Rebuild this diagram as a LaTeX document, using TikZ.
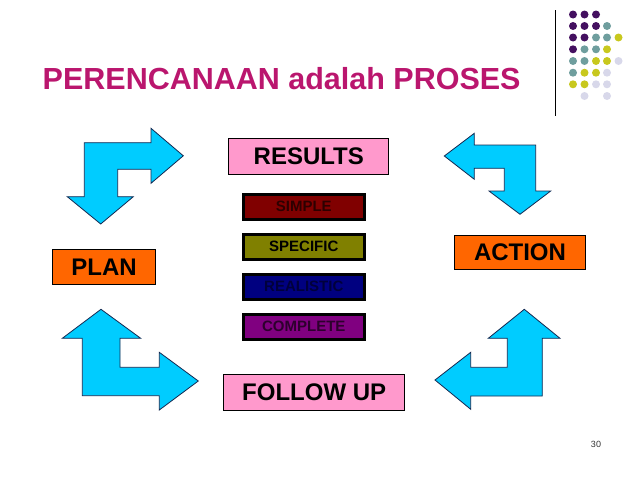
\documentclass[tikz,border=0pt]{standalone}
\usepackage{fontspec}
\setmainfont{Liberation Sans}
\definecolor{titlered}{RGB}{186,22,110}
\definecolor{arrowblue}{RGB}{0,204,255}
\definecolor{arrowline}{RGB}{20,40,80}
\definecolor{boxpink}{RGB}{255,153,204}
\definecolor{boxorange}{RGB}{255,102,0}
\definecolor{dotpurple}{RGB}{68,16,96}
\definecolor{dotteal}{RGB}{111,158,158}
\definecolor{dotyellow}{RGB}{200,200,30}
\definecolor{dotlilac}{RGB}{216,216,234}
\begin{document}
\begin{tikzpicture}[x=1pt,y=-1pt,
  bigbox/.style={draw=black,line width=0.8pt,inner sep=0pt,font=\bfseries\fontsize{24}{24}\selectfont},
  smallbox/.style={draw=black,line width=3pt,minimum width=121pt,minimum height=25pt,inner sep=0pt,font=\bfseries\fontsize{15}{15}\selectfont},
  bentarrow/.style={fill=arrowblue,draw=arrowline,line width=0.8pt,line join=miter}]
                \useasboundingbox (0,0) rectangle (638,479);
                % title and corner
                \node[anchor=base west,inner sep=0pt,text=titlered,font=\bfseries\fontsize{30.5}{30.5}\selectfont] (title) at (42.5,89) {PERENCANAAN adalah PROSES};
                \draw[line width=0.8pt] (555.5,10) -- (555.5,116);
                \fill[dotpurple] (573,14.5) circle[radius=4] (584.5,14.5) circle[radius=4] (596,14.5) circle[radius=4] (573,26) circle[radius=4] (584.5,26) circle[radius=4] (596,26) circle[radius=4] (573,37.5) circle[radius=4] (584.5,37.5) circle[radius=4] (573,49.3) circle[radius=4];
                \fill[dotteal] (607,26) circle[radius=4] (596,37.5) circle[radius=4] (607,37.5) circle[radius=4] (584.5,49.3) circle[radius=4] (596,49.3) circle[radius=4] (573,61) circle[radius=4] (584.5,61) circle[radius=4] (573,72.7) circle[radius=4];
                \fill[dotyellow] (618.5,37.5) circle[radius=4] (607,49.3) circle[radius=4] (596,61) circle[radius=4] (607,61) circle[radius=4] (584.5,72.7) circle[radius=4] (596,72.7) circle[radius=4] (573,84.3) circle[radius=4] (584.5,84.3) circle[radius=4];
                \fill[dotlilac] (618.5,61) circle[radius=4] (607,72.7) circle[radius=4] (596,84.3) circle[radius=4] (607,84.3) circle[radius=4] (584.5,96) circle[radius=4] (607,96) circle[radius=4];
                % bent arrows
                \draw[bentarrow] (84.3,142.7) -- (151,142.7) -- (151,128.3) -- (183.3,155.8) -- (151,183.3) -- (151,169.3) -- (117.7,169.3) -- (117.7,196.7) -- (133.3,196.7) -- (100.7,224) -- (67.3,196.7) -- (84.3,196.7) -- cycle;
                \draw[bentarrow] (535.7,145) -- (474.3,145) -- (474.3,133.3) -- (444.3,156) -- (474.3,179.3) -- (474.3,168.3) -- (504.3,168.3) -- (504.3,191) -- (489,191) -- (520,214.3) -- (550.7,191) -- (535.7,191) -- cycle;
                \draw[bentarrow] (82.3,395.7) -- (82.3,338.3) -- (62.3,338.3) -- (101,309.3) -- (140.7,338.3) -- (120,338.3) -- (120,367.3) -- (159.3,367.3) -- (159.3,352.3) -- (198.3,381) -- (159.3,410) -- (159.3,395.7) -- cycle;
                \draw[bentarrow] (542.3,396) -- (542.3,338.3) -- (560,338.3) -- (524.3,309.3) -- (488.3,338.3) -- (507.3,338.3) -- (507.3,367.3) -- (470.7,367.3) -- (470.7,352.3) -- (435,380) -- (470.7,409.3) -- (470.7,396) -- cycle;
                % boxes
                \node[bigbox,fill=boxpink,minimum width=160pt,minimum height=36pt] (results) at (308.8,156.7) {RESULTS};
                \node[smallbox,fill={rgb,255:red,128;green,0;blue,0},text={rgb,255:red,45;green,0;blue,0}] (simple) at (303.8,206.7) {SIMPLE};
                \node[smallbox,fill={rgb,255:red,128;green,128;blue,0},text=black] (specific) at (303.8,246.8) {SPECIFIC};
                \node[smallbox,fill={rgb,255:red,0;green,0;blue,128},text={rgb,255:red,0;green,0;blue,60}] (realistic) at (303.8,286.8) {REALISTIC};
                \node[smallbox,fill={rgb,255:red,128;green,0;blue,128},text={rgb,255:red,45;green,0;blue,45}] (complete) at (303.8,326.7) {COMPLETE};
                \node[bigbox,fill=boxorange,minimum width=103pt,minimum height=35pt] (plan) at (104,267.2) {PLAN};
                \node[bigbox,fill=boxorange,minimum width=131pt,minimum height=34pt] (action) at (520,252.5) {ACTION};
                \node[bigbox,fill=boxpink,minimum width=181pt,minimum height=36pt] (followup) at (314.2,392.5) {FOLLOW UP};
                \node[text=black!80,font=\fontsize{9}{9}\selectfont] (pagenum) at (596,444) {30};
\end{tikzpicture}
\end{document}
